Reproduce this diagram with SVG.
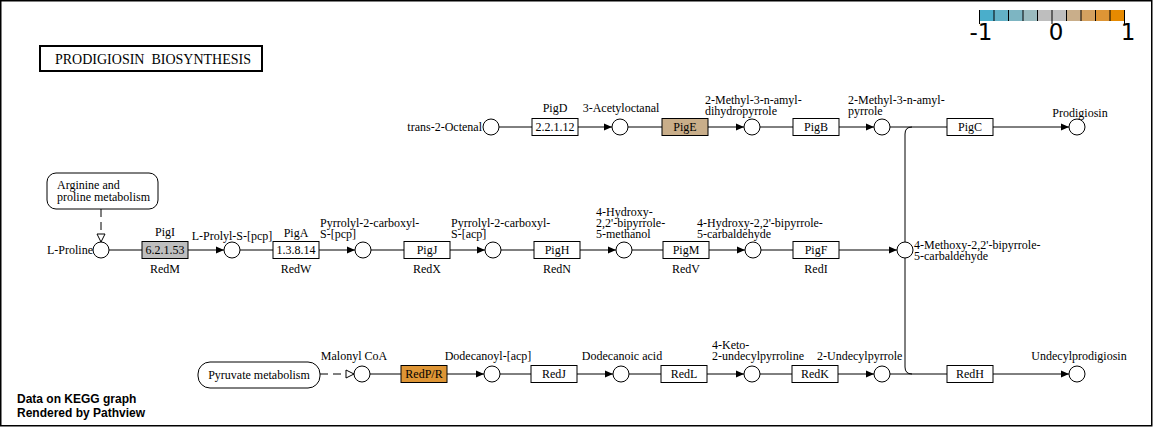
<svg xmlns="http://www.w3.org/2000/svg" width="1153" height="427" viewBox="0 0 1153 427">
<style>
.t{font-family:"Liberation Serif","Times New Roman",serif;font-size:12px;fill:#000}
.m{text-anchor:middle}
.c{fill:#fff;stroke:#000;stroke-width:1}
.b{stroke:#000;stroke-width:1}
.e{fill:none;stroke:#000;stroke-width:1}
.d{fill:none;stroke:#000;stroke-width:1;stroke-dasharray:8,5}
.a{marker-end:url(#ah)}
.lg{font-family:"DejaVu Sans","Liberation Sans",sans-serif;font-size:23px;text-anchor:middle;fill:#000}
.pv{font-family:"Liberation Sans",Arial,sans-serif;font-size:12px;font-weight:bold;fill:#000}
</style>
<defs>
<marker id="ah" markerUnits="userSpaceOnUse" markerWidth="10" markerHeight="10" viewBox="0 -5 10 10" refX="8" refY="0" orient="auto">
<path d="M0,-3.5 L8,0 L0,3.5 Z" fill="#000"/>
</marker>
<marker id="oa" markerUnits="userSpaceOnUse" markerWidth="12" markerHeight="12" viewBox="-1 -6 12 12" refX="8" refY="0" orient="auto">
<path d="M0,-4 L8,0 L0,4 Z" fill="#fff" stroke="#000" stroke-width="1"/>
</marker>
</defs>
<rect x="0" y="0" width="1153" height="427" fill="#fff"/>
<rect x="0.75" y="0.75" width="1151" height="425" fill="none" stroke="#000" stroke-width="1.5"/>

<g id="legend">
<rect x="979.5" y="10" width="14.5" height="11" fill="#4aaecb"/>
<rect x="994" y="10" width="14.5" height="11" fill="#63b1c6"/>
<rect x="1008.5" y="10" width="14.5" height="11" fill="#7db5c2"/>
<rect x="1023" y="10" width="14.5" height="11" fill="#9bbbbf"/>
<rect x="1037.5" y="10" width="14.5" height="11" fill="#bebebe"/>
<rect x="1052" y="10" width="14.5" height="11" fill="#bebebe"/>
<rect x="1066.5" y="10" width="14.5" height="11" fill="#c9ae8a"/>
<rect x="1081" y="10" width="14.5" height="11" fill="#d4a160"/>
<rect x="1095.5" y="10" width="14.5" height="11" fill="#de9535"/>
<rect x="1110" y="10" width="14.5" height="11" fill="#e68a00"/>
<path d="M979.5 10V24M994 10V21M1008.5 10V21M1023 10V21M1037.5 10V21M1052 10V24M1066.5 10V21M1081 10V21M1095.5 10V21M1110 10V21M1124.5 10V24" stroke="#000" stroke-width="1"/>
<text class="lg" x="981" y="40">-1</text>
<text class="lg" x="1056" y="40">0</text>
<text class="lg" x="1128" y="40">1</text>
</g>

<g id="title">
<rect x="40" y="46" width="222" height="25" fill="#fff" stroke="#000" stroke-width="2"/>
<text class="t" x="55" y="64" style="font-size:14px;white-space:pre">PRODIGIOSIN  BIOSYNTHESIS</text>
</g>

<g id="connectors">
<line class="e" x1="499" y1="127" x2="532" y2="127"/>
<line class="e a" x1="578" y1="127" x2="612" y2="127"/>
<line class="e" x1="628" y1="127" x2="662" y2="127"/>
<line class="e a" x1="708" y1="127" x2="744" y2="127"/>
<line class="e" x1="760" y1="127" x2="793" y2="127"/>
<line class="e a" x1="839" y1="127" x2="874" y2="127"/>
<line class="e" x1="890" y1="127" x2="947" y2="127"/>
<line class="e a" x1="993" y1="127" x2="1069" y2="127"/>
<path class="e" d="M912 127 Q905 127 905 134 L905 367 Q905 374 912 374"/>

<line class="e" x1="109" y1="250" x2="142" y2="250"/>
<line class="e a" x1="188" y1="250" x2="224" y2="250"/>
<line class="e" x1="240" y1="250" x2="273" y2="250"/>
<line class="e a" x1="319" y1="250" x2="355" y2="250"/>
<line class="e" x1="371" y1="250" x2="404" y2="250"/>
<line class="e a" x1="450" y1="250" x2="485" y2="250"/>
<line class="e" x1="501" y1="250" x2="534" y2="250"/>
<line class="e a" x1="580" y1="250" x2="616" y2="250"/>
<line class="e" x1="632" y1="250" x2="663" y2="250"/>
<line class="e a" x1="709" y1="250" x2="745" y2="250"/>
<line class="e" x1="761" y1="250" x2="793" y2="250"/>
<line class="e a" x1="839" y1="250" x2="897" y2="250"/>
<line class="d" x1="101" y1="209" x2="101" y2="235"/>
<line class="e" x1="101" y1="235" x2="101" y2="242" marker-end="url(#oa)"/>

<line class="d" x1="320" y1="374" x2="347" y2="374"/>
<line class="e" x1="346" y1="374" x2="354" y2="374" marker-end="url(#oa)"/>
<line class="e" x1="370" y1="374" x2="401" y2="374"/>
<line class="e a" x1="447" y1="374" x2="484" y2="374"/>
<line class="e" x1="500" y1="374" x2="531" y2="374"/>
<line class="e a" x1="577" y1="374" x2="613" y2="374"/>
<line class="e" x1="629" y1="374" x2="661" y2="374"/>
<line class="e a" x1="707" y1="374" x2="744" y2="374"/>
<line class="e" x1="760" y1="374" x2="792" y2="374"/>
<line class="e a" x1="838" y1="374" x2="874" y2="374"/>
<line class="e" x1="890" y1="374" x2="947" y2="374"/>
<line class="e a" x1="993" y1="374" x2="1069" y2="374"/>
</g>

<g id="trans-2-Octenal"><circle class="c" cx="491" cy="127" r="8"/><text class="t" x="482" y="131" text-anchor="end">trans-2-Octenal</text></g>
<g id="PigD"><rect class="b" x="532" y="118.5" width="46" height="17" fill="#fff"/><text class="t m" x="555" y="131">2.2.1.12</text><text class="t m" x="555" y="112">PigD</text></g>
<g id="3-Acetyloctanal"><circle class="c" cx="620" cy="127" r="8"/><text class="t m" x="621" y="112">3-Acetyloctanal</text></g>
<g id="PigE"><rect class="b" x="662" y="118.5" width="46" height="17" fill="#c9ae8a"/><text class="t m" x="685" y="131">PigE</text></g>
<g id="dihydropyrrole"><circle class="c" cx="752" cy="127" r="8"/><text class="t" x="705" y="104">2-Methyl-3-n-amyl-<tspan x="705" dy="11">dihydropyrrole</tspan></text></g>
<g id="PigB"><rect class="b" x="793" y="118.5" width="46" height="17" fill="#fff"/><text class="t m" x="816" y="131">PigB</text></g>
<g id="amylpyrrole"><circle class="c" cx="882" cy="127" r="8"/><text class="t" x="848" y="104">2-Methyl-3-n-amyl-<tspan x="848" dy="11">pyrrole</tspan></text></g>
<g id="PigC"><rect class="b" x="947" y="118.5" width="46" height="17" fill="#fff"/><text class="t m" x="970" y="131">PigC</text></g>
<g id="Prodigiosin"><circle class="c" cx="1077" cy="127" r="8"/><text class="t m" x="1080" y="117">Prodigiosin</text></g>

<g id="arginine-map"><rect x="47" y="173" width="111" height="36" rx="9" fill="#fff" stroke="#000" stroke-width="1"/><text class="t" x="57" y="189">Arginine and<tspan x="57" dy="12">proline metabolism</tspan></text></g>
<g id="L-Proline"><circle class="c" cx="101" cy="250" r="8"/><text class="t" x="93" y="254" text-anchor="end">L-Proline</text></g>
<g id="PigI"><rect class="b" x="142" y="241.5" width="46" height="17" fill="#bebebe"/><text class="t m" x="165" y="254">6.2.1.53</text><text class="t m" x="165" y="236">PigI</text><text class="t m" x="165" y="273">RedM</text></g>
<g id="L-Prolyl"><circle class="c" cx="232" cy="250" r="8"/><text class="t m" x="232" y="240">L-Prolyl-S-[pcp]</text></g>
<g id="PigA"><rect class="b" x="273" y="241.5" width="46" height="17" fill="#fff"/><text class="t m" x="296" y="254">1.3.8.14</text><text class="t m" x="296" y="237">PigA</text><text class="t m" x="296" y="273">RedW</text></g>
<g id="pyrrolyl-pcp"><circle class="c" cx="363" cy="250" r="8"/><text class="t" x="320" y="227">Pyrrolyl-2-carboxyl-<tspan x="320" dy="11">S-[pcp]</tspan></text></g>
<g id="PigJ"><rect class="b" x="404" y="241.5" width="46" height="17" fill="#fff"/><text class="t m" x="427" y="254">PigJ</text><text class="t m" x="427" y="273">RedX</text></g>
<g id="pyrrolyl-acp"><circle class="c" cx="493" cy="250" r="8"/><text class="t" x="451" y="227">Pyrrolyl-2-carboxyl-<tspan x="451" dy="11">S-[acp]</tspan></text></g>
<g id="PigH"><rect class="b" x="534" y="241.5" width="46" height="17" fill="#fff"/><text class="t m" x="557" y="254">PigH</text><text class="t m" x="557" y="273">RedN</text></g>
<g id="methanol"><circle class="c" cx="624" cy="250" r="8"/><text class="t" x="596" y="216">4-Hydroxy-<tspan x="596" dy="11">2,2'-bipyrrole-</tspan><tspan x="596" dy="11">5-methanol</tspan></text></g>
<g id="PigM"><rect class="b" x="663" y="241.5" width="46" height="17" fill="#fff"/><text class="t m" x="686" y="254">PigM</text><text class="t m" x="686" y="273">RedV</text></g>
<g id="hydroxy-carbaldehyde"><circle class="c" cx="753" cy="250" r="8"/><text class="t" x="697" y="227">4-Hydroxy-2,2'-bipyrrole-<tspan x="697" dy="11">5-carbaldehyde</tspan></text></g>
<g id="PigF"><rect class="b" x="793" y="241.5" width="46" height="17" fill="#fff"/><text class="t m" x="816" y="254">PigF</text><text class="t m" x="816" y="273">RedI</text></g>
<g id="methoxy-carbaldehyde"><circle class="c" cx="905" cy="250" r="8"/><text class="t" x="914" y="249">4-Methoxy-2,2'-bipyrrole-<tspan x="914" dy="11">5-carbaldehyde</tspan></text></g>

<g id="pyruvate-map"><rect x="198" y="362" width="122" height="26" rx="12" fill="#fff" stroke="#000" stroke-width="1"/><text class="t m" x="259" y="379">Pyruvate metabolism</text></g>
<g id="Malonyl-CoA"><circle class="c" cx="362" cy="374" r="8"/><text class="t m" x="354" y="360">Malonyl CoA</text></g>
<g id="RedPR"><rect class="b" x="401" y="365.5" width="46" height="17" fill="#de9535"/><text class="t m" x="424" y="378">RedP/R</text></g>
<g id="Dodecanoyl"><circle class="c" cx="492" cy="374" r="8"/><text class="t m" x="488" y="360">Dodecanoyl-[acp]</text></g>
<g id="RedJ"><rect class="b" x="531" y="365.5" width="46" height="17" fill="#fff"/><text class="t m" x="554" y="378">RedJ</text></g>
<g id="Dodecanoic"><circle class="c" cx="621" cy="374" r="8"/><text class="t m" x="622" y="360">Dodecanoic acid</text></g>
<g id="RedL"><rect class="b" x="661" y="365.5" width="46" height="17" fill="#fff"/><text class="t m" x="684" y="378">RedL</text></g>
<g id="keto"><circle class="c" cx="752" cy="374" r="8"/><text class="t" x="712" y="349">4-Keto-<tspan x="712" dy="11">2-undecylpyrroline</tspan></text></g>
<g id="RedK"><rect class="b" x="792" y="365.5" width="46" height="17" fill="#fff"/><text class="t m" x="815" y="378">RedK</text></g>
<g id="Undecylpyrrole"><circle class="c" cx="882" cy="374" r="8"/><text class="t" x="817" y="360">2-Undecylpyrrole</text></g>
<g id="RedH"><rect class="b" x="947" y="365.5" width="46" height="17" fill="#fff"/><text class="t m" x="970" y="378">RedH</text></g>
<g id="Undecylprodigiosin"><circle class="c" cx="1077" cy="374" r="8"/><text class="t m" x="1079" y="360">Undecylprodigiosin</text></g>

<g id="pathview"><text class="pv" x="17" y="403">Data on KEGG graph</text><text class="pv" x="17" y="417">Rendered by Pathview</text></g>
</svg>
